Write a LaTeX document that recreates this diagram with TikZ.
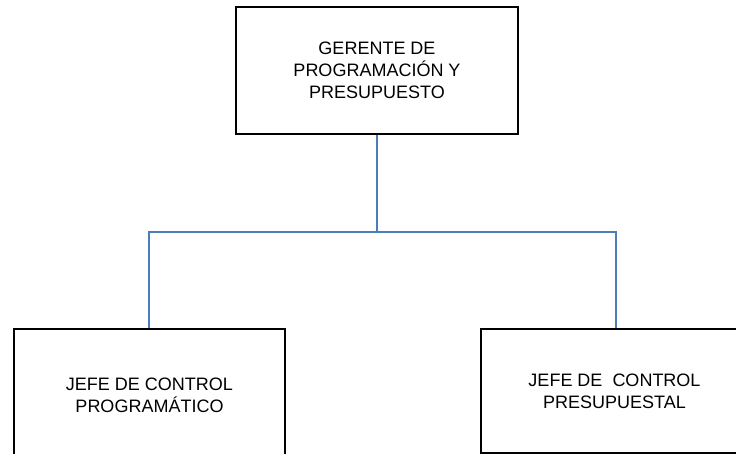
\documentclass[tikz,border=0pt]{standalone}
\usepackage{fontspec}
\setmainfont{Liberation Sans}
\usetikzlibrary{positioning}
\definecolor{linkblue}{HTML}{4A7EBB}

\begin{document}
\begin{tikzpicture}[x=1pt,y=-1pt,
  post box/.style={rectangle,draw=black,line width=2pt,fill=white,align=center,
    inner sep=0pt,font=\fontsize{18}{21.7}\selectfont},
  link/.style={draw=linkblue,line width=1.5pt}]

  \clip (0,0) rectangle (736,454);

  \node[post box,minimum width=282pt,minimum height=127pt] (gerente) at (377,70.5)
    {GERENTE DE\\PROGRAMACIÓN Y\\PRESUPUESTO};
  \node[post box,minimum width=271pt,minimum height=132pt] (programa) at (149.5,395)
    {JEFE DE CONTROL\\PROGRAMÁTICO};
  \node[post box,minimum width=267pt,minimum height=124pt] (presupuesto) at (614.5,391)
    {JEFE DE\ \ CONTROL\\PRESUPUESTAL};

  \coordinate (split) at (377,232);

  \path[link] (gerente.south) -- (split)
    (split) -| ([xshift=-0.5pt]programa.north)
    (split) -| ([xshift=1.5pt]presupuesto.north);
\end{tikzpicture}
\end{document}
